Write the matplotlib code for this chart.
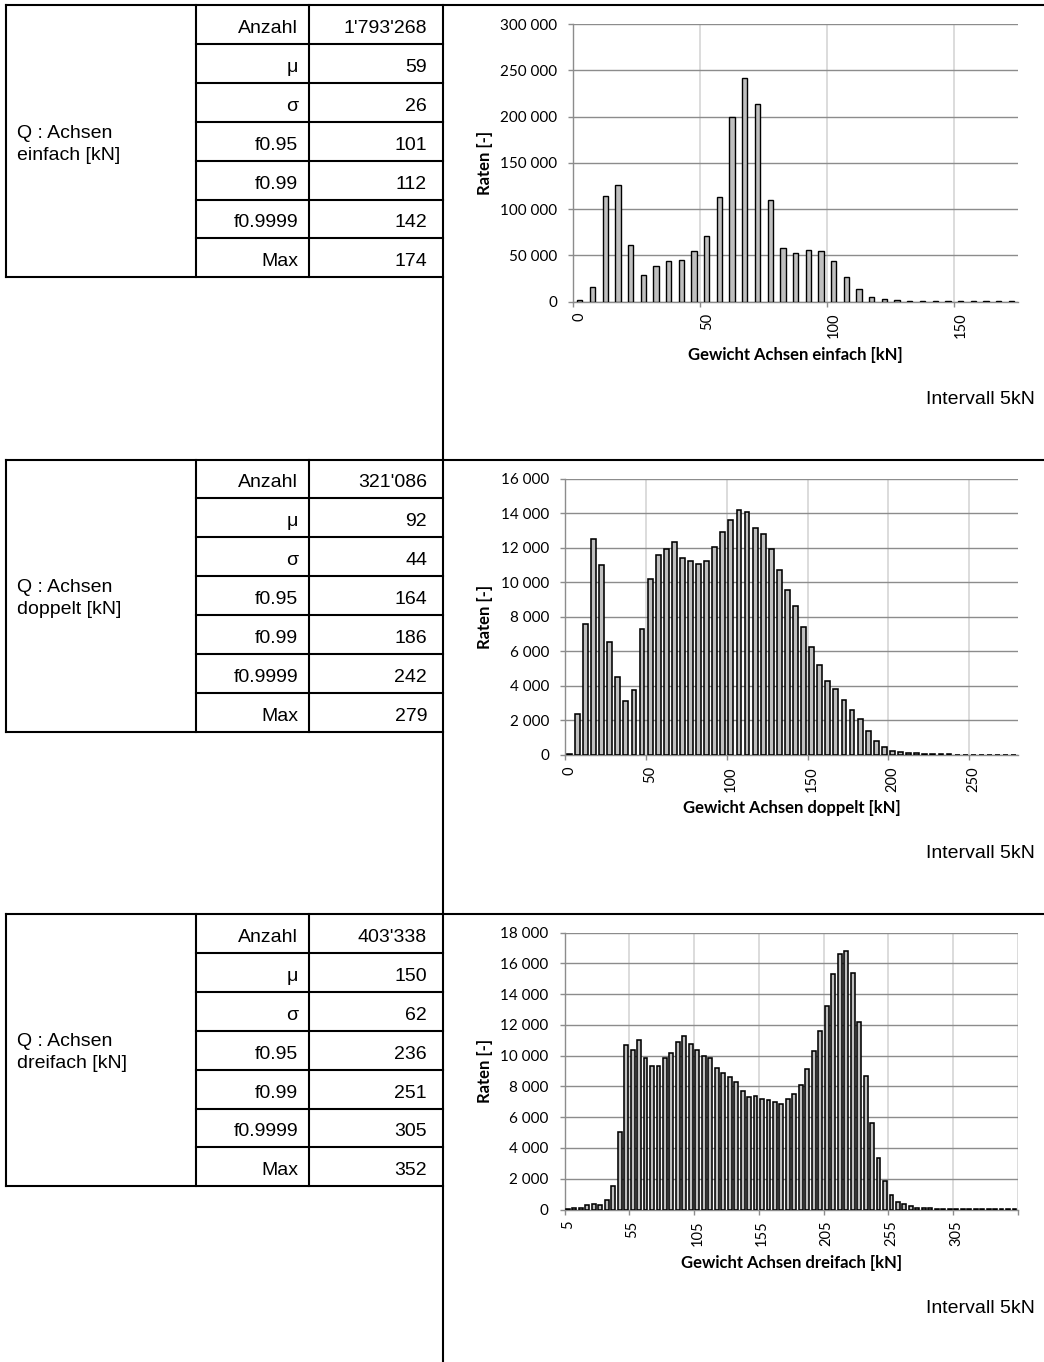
import matplotlib
matplotlib.use("Agg")
import matplotlib.pyplot as plt
from matplotlib.ticker import FixedLocator, FuncFormatter, NullFormatter
import numpy as np

plt.rcParams['font.family'] = ['Lato', 'DejaVu Sans']

W, H = 1044, 1362

# ---------------- data ----------------
stat_labels = ["Anzahl", "μ", "σ", "f0.95", "f0.99", "f0.9999", "Max"]
einfach_stats = ["1'793'268", "59", "26", "101", "112", "142", "174"]
doppelt_stats = ["321'086", "92", "44", "164", "186", "242", "279"]
dreifach_stats = ["403'338", "150", "62", "236", "251", "305", "352"]

row_title_1 = ["Q : Achsen", "Q : Achsen", "Q : Achsen"]
row_title_2 = ["einfach [kN]", "doppelt [kN]", "dreifach [kN]"]
x_titles = ["Gewicht Achsen einfach [kN]", "Gewicht Achsen doppelt [kN]",
            "Gewicht Achsen dreifach [kN]"]
interval_text = "Intervall 5kN"
y_title = "Raten [-]"

einfach_bins = list(range(0, 175, 5))
einfach_rates = [2000, 15900, 114000, 125500, 60800, 28600, 38000, 43400, 45200, 54300,
                 70900, 113200, 199700, 241700, 213800, 110000, 57900, 52500, 55400, 54300,
                 43400, 26800, 13000, 5400, 2200, 1400, 600, 400, 300, 200,
                 150, 100, 80, 60, 40]

doppelt_bins = list(range(0, 280, 5))
doppelt_rates = [50, 2400, 7600, 12500, 10970, 6560, 4490, 3100, 3790, 7310,
                 10170, 11570, 11930, 12320, 11390, 11200, 11060, 11200, 12030, 12880,
                 13600, 14180, 14040, 13110, 12770, 11930, 10720, 9540, 8650, 7390,
                 6270, 5180, 4290, 3810, 3210, 2590, 2090, 1370, 830, 480,
                 250, 190, 130, 100, 60, 50, 40, 30, 25, 20,
                 15, 10, 10, 8, 5, 5]

dreifach_bins = list(range(5, 355, 5))
dreifach_rates = [40, 90, 130, 280, 390, 300, 610, 1540, 5020, 10700,
                  10400, 11010, 9860, 9320, 9360, 9860, 10160, 10900, 11310, 10770,
                  10360, 10010, 9840, 9230, 8900, 8600, 8300, 7690, 7340, 7380,
                  7170, 7120, 6990, 6880, 7170, 7540, 8100, 9140, 10290, 11620,
                  13250, 15290, 16590, 16810, 15370, 12200, 8690, 5600, 3370, 1850,
                  930, 520, 350, 240, 130, 90, 80, 60, 50, 40,
                  30, 25, 20, 20, 15, 10, 10, 10, 10, 50]

y_max = [300000, 16000, 18000]
y_step = [50000, 2000, 2000]

# ---------------- figure ----------------
fig = plt.figure(figsize=(W / 100, H / 100), dpi=100)
fig.patch.set_facecolor('white')

def px_rect(l, t, r, b):
    return [l / W, 1 - b / H, (r - l) / W, (b - t) / H]

ov = fig.add_axes([0, 0, 1, 1])
ov.set_xlim(0, W)
ov.set_ylim(H, 0)
ov.axis('off')

SEC = 454.5
RH = 38.9
LW = 1.5
TFONT = ['Liberation Sans', 'DejaVu Sans']
TSIZE = 14

stats_all = [einfach_stats, doppelt_stats, dreifach_stats]

def hline(x0, x1, y):
    ov.plot([x0, x1], [y, y], color='black', lw=LW, solid_capstyle='projecting')

def vline(x, y0, y1):
    ov.plot([x, x], [y0, y1], color='black', lw=LW, solid_capstyle='projecting')

for s in range(3):
    T = 5 + s * SEC
    hline(6, W, T)
    for k in range(1, 7):
        hline(196, 443, T + k * RH)
    hline(6, 443, T + 7 * RH)
    for xv in (6, 196, 309):
        vline(xv, T, T + 7 * RH)
    for k, lab in enumerate(stat_labels):
        yc = T + (k + 0.5) * RH + 2
        ov.text(298, yc, lab, ha='right', va='center_baseline', fontsize=TSIZE,
                family=TFONT, color='black')
        ov.text(427, yc, stats_all[s][k], ha='right', va='center_baseline',
                fontsize=TSIZE, family=TFONT, color='black')
    ov.text(17, T + 126, row_title_1[s], ha='left', va='center_baseline',
            fontsize=TSIZE, family=TFONT, color='black')
    ov.text(17, T + 148, row_title_2[s], ha='left', va='center_baseline',
            fontsize=TSIZE, family=TFONT, color='black')
    ov.text(1035, T + 392.5, interval_text, ha='right', va='center_baseline',
            fontsize=TSIZE, family=TFONT, color='black')
vline(443, 5, H)

# ---------------- charts ----------------
bins_all = [einfach_bins, doppelt_bins, dreifach_bins]
rates_all = [einfach_rates, doppelt_rates, dreifach_rates]
lefts = [573.45, 565.25, 564.6]
tops = [24.2, 478.5, 932.7]
bottoms = [301.5, 755.0, 1209.5]
bar_w = [0.42, 0.6, 0.6]
bar_lw = [1.0, 1.15, 1.15]
RIGHT = 1017.7
GRID_H = '#8c8c8c'
GRID_V = '#d9d9d9'

def thousands(v, p):
    return f"{int(round(v)):,}".replace(",", " ")

for s in range(3):
    bins = bins_all[s]
    rates = rates_all[s]
    n = len(bins)
    left, top, bottom = lefts[s], tops[s], bottoms[s]
    ax = fig.add_axes(px_rect(left, top, RIGHT, bottom))
    ax.set_facecolor('none')
    x = np.arange(n)
    ax.bar(x, rates, width=bar_w[s], color='#bfbfbf', edgecolor='black',
           linewidth=bar_lw[s], zorder=3)
    ax.set_xlim(-0.5, n - 0.5)
    ax.set_ylim(0, y_max[s])
    ax.yaxis.set_major_locator(FixedLocator(np.arange(0, y_max[s] + 1, y_step[s])))
    ax.yaxis.set_major_formatter(FuncFormatter(thousands))
    ax.set_axisbelow(True)
    ax.grid(axis='y', which='major', color=GRID_H, lw=1.0)

    boundaries = np.arange(-0.5, n, 10)
    ax.xaxis.set_major_locator(FixedLocator(boundaries))
    ax.xaxis.set_major_formatter(NullFormatter())
    ax.xaxis.set_minor_locator(FixedLocator(x[::10]))
    ax.xaxis.set_minor_formatter(FuncFormatter(lambda v, p, b=bins: str(b[int(round(v))])))
    ax.grid(axis='x', which='major', color=GRID_V, lw=1.3)

    ax.tick_params(axis='x', which='major', length=3.6, width=1.0, color=GRID_H,
                   direction='out')
    ax.tick_params(axis='x', which='minor', length=0, pad=8, labelsize=10.5,
                   labelrotation=90, labelcolor='black')
    ax.tick_params(axis='y', which='major', length=3.6, width=1.0, color=GRID_H,
                   direction='out', pad=8, labelsize=11, labelcolor='black')

    for sp in ('top', 'right'):
        ax.spines[sp].set_visible(False)
    for sp in ('left', 'bottom'):
        ax.spines[sp].set_color(GRID_H)
        ax.spines[sp].set_linewidth(1.0)

    height = bottom - top
    width = RIGHT - left
    ax.set_ylabel(y_title, fontsize=12, fontweight='bold')
    ax.yaxis.set_label_coords((485 - left) / width, 0.5)
    ax.yaxis.label.set_va('center')
    ax.set_xlabel(x_titles[s], fontsize=12, fontweight='bold')
    ax.xaxis.set_label_coords(0.5, -53.5 / height)
    ax.xaxis.label.set_va('center')

fig.savefig('out.png', dpi=100, facecolor='white')
